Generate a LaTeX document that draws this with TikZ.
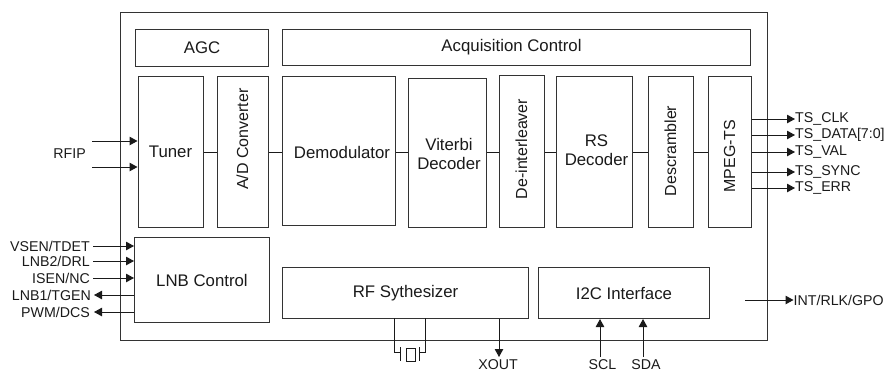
\documentclass[tikz,border=0pt]{standalone}
\usepackage{fontspec}
\setmainfont{Liberation Sans}
\usetikzlibrary{arrows.meta}
\definecolor{ink}{HTML}{1A1A1A}
\definecolor{edge}{HTML}{333333}
\tikzset{
  x=1pt,y=-1pt,
  every node/.style={text=ink},
  mainfont/.style={font=\fontsize{16.8}{19.5}\selectfont},
  block/.style={draw=edge,line width=1pt,fill=white,minimum width=#1,inner sep=0pt,mainfont,align=center},
  vtext/.style={rotate=90,inner sep=0pt,font=\fontsize{16}{19}\selectfont},
  lbl/.style={inner sep=0pt,font=\fontsize{14.2}{17}\selectfont},
  wire/.style={draw=ink,line width=1pt},
  sig/.style={wire,-{Triangle[length=8pt,width=8.5pt]}}
}
\newcommand{\bx}[6]{\node[block=#4pt,minimum height=#5pt,anchor=north west] (#1) at (#2,#3) {#6};}
\begin{document}
\begin{tikzpicture}
\useasboundingbox (0,0) rectangle (886,373);
\node[draw=edge,line width=1pt,minimum width=647pt,minimum height=328pt,anchor=north west,inner sep=0pt] (chip) at (120,12) {};
\bx{agc}{135}{29}{133}{37}{AGC}
\bx{acq}{282}{29}{468}{36}{}
\node[mainfont,inner sep=0pt] (acqt) at (511.5,47.5) {Acquisition Control};
\bx{tuner}{137.5}{76}{65}{151}{Tuner}
\bx{adc}{217}{76}{51}{151}{}
\node[vtext] (adct) at (242.5,139) {A/D Converter};
\bx{dem}{282}{76}{113}{149}{}
\node[mainfont,inner sep=0pt] (demt) at (342,152) {Demodulator};
\bx{vit}{408}{78}{78}{149}{}
\node[mainfont,align=center,inner sep=0pt] (vitt) at (449,154) {Viterbi\\Decoder};
\bx{dei}{499}{75}{45}{152}{}
\node[vtext] (deit) at (521.5,149) {De-interleaver};
\bx{rs}{556}{76}{76}{151}{}
\node[mainfont,align=center,inner sep=0pt] (rst) at (596.5,150) {RS\\Decoder};
\bx{des}{648}{76}{45}{151}{}
\node[vtext] (dest) at (670.5,151) {Descrambler};
\bx{mpg}{708}{76}{43}{151}{}
\node[vtext] (mpgt) at (729.5,156) {MPEG-TS};
\bx{lnb}{134}{237}{135}{85}{LNB Control}
\bx{rf}{282}{267}{246}{51}{RF Sythesizer}
\bx{i2c}{538}{267}{171}{51}{I2C Interface}
% internal links
\foreach \a/\b in {tuner/adc,adc/dem,dem/vit,vit/dei,dei/rs,rs/des,des/mpg}
  \draw[wire] (\a.east |- 0,152) -- (\b.west |- 0,152);
% RFIP
\node[lbl,anchor=east] (rfip) at (86,154) {RFIP};
\coordinate (r1) at (92,141); \coordinate (r2) at (92,167);
\draw[sig] (r1) -- (r1 -| tuner.west);
\draw[sig] (r2) -- (r2 -| tuner.west);
% LNB
\foreach \n/\t/\y in {vs/VSEN\slash TDET/246,lb/LNB2\slash DRL/261,is/ISEN\slash NC/278}{
  \node[lbl,anchor=east] (\n) at (90,\y) {\t};
  \draw[sig] (\n.east -| 93,\y) -- (\n.east -| lnb.west);
}
\foreach \n/\t/\y/\lx in {lt/LNB1\slash TGEN/295/91,pw/PWM\slash DCS/312/90}{
  \node[lbl,anchor=east] (\n) at (\lx,\y) {\t};
  \draw[sig] (\n.east -| lnb.west) -- (\n.east -| 94,\y);
}
% TS outputs
\foreach \n/\t/\y in {tc/TS\_CLK/119,td/TS\_DATA[7:0]/135,tv/TS\_VAL/152,ts/TS\_SYNC/172,te/TS\_ERR/188}{
  \node[lbl,anchor=west] (\n) at (795,\y) {\t};
  \draw[sig] (\n.west -| mpg.east) -- (\n.west);
}
% INT
\node[lbl,anchor=west] (int) at (793.5,300) {INT/RLK/GPO};
\coordinate (i0) at (745,300);
\draw[sig] (i0) -- (int.west);
% XOUT
\node[lbl] (xout) at (498,365) {XOUT};
\coordinate (xo) at (499,357);
\draw[sig] (xo |- rf.south) -- (xo);
% SCL SDA
\node[lbl] (scl) at (602.5,365) {SCL};
\node[lbl] (sda) at (646,365) {SDA};
\coordinate (sc) at (600,357); \coordinate (sd) at (643,357);
\draw[sig] (sc) -- (sc |- i2c.south);
\draw[sig] (sd) -- (sd |- i2c.south);
% crystal
\node[draw=ink,line width=1pt,minimum width=9pt,minimum height=13pt,inner sep=0pt] (xt) at (410.5,355) {};
\coordinate (c1) at (394,318); \coordinate (c2) at (425,318);
\draw[wire] (c1) -- (394,352) -- (400,352);
\draw[wire] (c2) -- (425,352) -- (419,352);
\draw[wire] (400,347) -- (400,361);
\draw[wire] (419,347) -- (419,361);
\end{tikzpicture}
\end{document}
